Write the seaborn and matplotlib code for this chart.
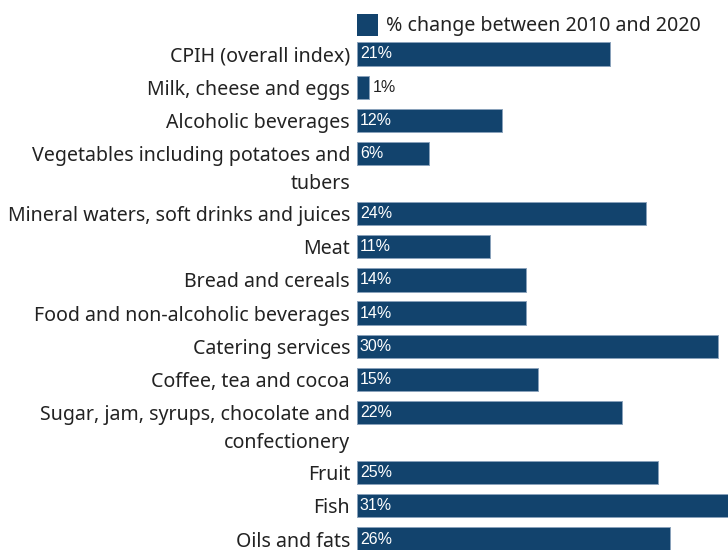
import numpy as np
import pandas as pd
import seaborn as sns
import matplotlib.pyplot as plt
from matplotlib.patches import Patch

# %% DATA

categories = [
    'CPIH (overall index)',
    'Milk, cheese and eggs',
    'Alcoholic beverages',
    'Vegetables including potatoes and\ntubers',
    'Mineral waters, soft drinks and juices',
    'Meat',
    'Bread and cereals',
    'Food and non-alcoholic beverages',
    'Catering services',
    'Coffee, tea and cocoa',
    'Sugar, jam, syrups, chocolate and\nconfectionery',
    'Fruit',
    'Fish',
    'Oils and fats',
]
pct_change = [21, 1, 12, 6, 24, 11, 14, 14, 30, 15, 22, 25, 31, 26]
series_name = '% change between 2010 and 2020'

# %% ORGANISE DATA

# rows with a wrapped label take a bit more room
n_lines = np.array([c.count('\n') + 1 for c in categories])
step = 1 + 0.81 * (n_lines[:-1] - 1)
pos = np.concatenate([[0], np.cumsum(step)])

data = pd.DataFrame({'Category': categories, 'Change': pct_change, 'Pos': pos})

# %% PLOT GRAPH

bar_col = '#12436D'
txt_col = '#222222'

sns.set_style('white')
plt.rcParams['font.family'] = ['Noto Sans', 'DejaVu Sans']

fig = plt.figure(figsize=(7.28, 5.5), dpi=100)
ax = fig.add_axes([357 / 728, 0, 1 - 357 / 728, 511 / 550])

sns.barplot(
    data=data,
    x='Change',
    y='Pos',
    orient='h',
    native_scale=True,
    color=bar_col,
    saturation=1,
    width=0.7,
    edgecolor='#8aa2bb',
    linewidth=0.7,
    ax=ax,
)

ax.set_xlim(0, 30.8)
ax.set_ylim(pos[-1] + 0.33, -0.45)
ax.set_xticks([])
ax.set_yticks([])
ax.set_xlabel('')
ax.set_ylabel('')
sns.despine(ax=ax, left=True, bottom=True)

# category labels, first line level with the bar, wrapped lines below
for p, c in zip(pos, categories):
    for k, line in enumerate(c.split('\n')):
        ax.annotate(line, (0, p), xycoords=('axes fraction', 'data'),
                    xytext=(-5, -20.2 * k), textcoords='offset points',
                    ha='right', va='center_baseline',
                    fontsize=14.1, color=txt_col, annotation_clip=False)

for p, v in zip(pos, pct_change):
    if v >= 3:
        ax.annotate(f'{v}%', (0, p), xytext=(2, 0), textcoords='offset points',
                    ha='left', va='center', color='white', fontsize=11.5,
                    family='Liberation Sans')
    else:
        ax.annotate(f'{v}%', (v, p), xytext=(3, 0), textcoords='offset points',
                    ha='left', va='center', color=txt_col, fontsize=11.5,
                    family='Liberation Sans')

ax.legend(
    handles=[Patch(facecolor=bar_col, edgecolor='none')],
    labels=[series_name],
    loc='lower left',
    bbox_to_anchor=(0, 1.005),
    frameon=False,
    fontsize=14.1,
    handlelength=1.05,
    handleheight=1.3,
    handletextpad=0.45,
    borderpad=0,
    borderaxespad=0,
    labelcolor=txt_col,
)

plt.savefig('out.png', dpi=100)
